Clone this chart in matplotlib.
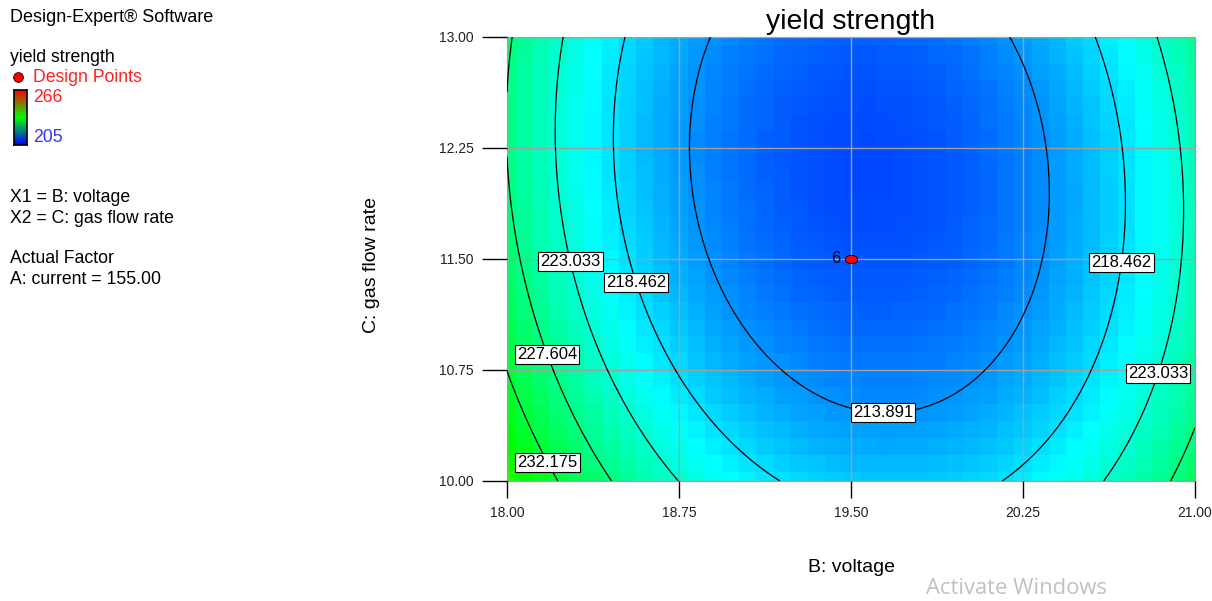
import numpy as np
import matplotlib
matplotlib.use('Agg')
import matplotlib.pyplot as plt
from matplotlib.colors import LinearSegmentedColormap
from matplotlib.path import Path

plt.rcParams['font.family'] = ['Liberation Sans', 'DejaVu Sans']

#######################
# data
#######################
voltage_range = [18.0, 21.0]          # B: voltage
gas_range = [10.0, 13.0]              # C: gas flow rate
x_ticks = [18.00, 18.75, 19.50, 20.25, 21.00]
y_ticks = [10.00, 10.75, 11.50, 12.25, 13.00]

# coded quadratic model: const, X1, X2, X1*X2, X1^2, X2^2
model_coef = [210.11, -2.35, -3.09, 1.48, 16.45, 3.77]
contour_levels = [213.891, 218.462, 223.033, 227.604, 232.175]
color_range = [205, 266]

design_x = [19.5]
design_y = [11.5]
design_count = ['6']

legend_lines = ['X1 = B: voltage', 'X2 = C: gas flow rate', '',
                'Actual Factor', 'A: current = 155.00']

W, H = 1212, 601


def yield_strength(b, c):
    x1 = (b - 19.5) / 1.5
    x2 = (c - 11.5) / 1.5
    k = model_coef
    return k[0] + k[1]*x1 + k[2]*x2 + k[3]*x1*x2 + k[4]*x1**2 + k[5]*x2**2


de_cmap = LinearSegmentedColormap.from_list(
    'de', ['#0000ff', '#00ffff', '#00ff00', '#ffff00', '#ff0000'])

fig = plt.figure(figsize=(W/100, H/100), dpi=100)
ax = fig.add_axes([507/W, 1-481/H, 688/W, 444/H])

# blocky colour fill
bx = np.linspace(voltage_range[0], voltage_range[1], 41)
cy = np.linspace(gas_range[0], gas_range[1], 27)
BB, CC = np.meshgrid(bx, cy)
ax.pcolormesh(BB, CC, yield_strength(BB, CC), cmap=de_cmap, shading='nearest',
              vmin=color_range[0], vmax=color_range[1], zorder=0)

# smooth contour lines
fx = np.linspace(voltage_range[0], voltage_range[1], 300)
fy = np.linspace(gas_range[0], gas_range[1], 300)
FX, FY = np.meshgrid(fx, fy)
cs = ax.contour(FX, FY, yield_strength(FX, FY), levels=contour_levels,
                colors='black', linewidths=0.9, zorder=3)
label_spots = [(18.25, 11.47), (18.545, 11.33), (20.70, 11.47), (18.2, 10.87),
               (18.18, 10.13), (20.83, 10.73), (19.64, 10.47)]
labels = ax.clabel(cs, manual=label_spots, inline=False, fmt='%.3f', fontsize=12)
for t in labels:
    t.set_rotation(0)
    t.set_zorder(5)
    t.set_bbox(dict(boxstyle='square,pad=0.12', fc='white', ec='black', lw=0.8))

# design point
ell = Path(Path.unit_circle().vertices * [1.5, 1.0], Path.unit_circle().codes)
ax.plot(design_x, design_y, linestyle='none', marker=ell, markersize=9,
        mfc='red', mec='black', mew=0.6, zorder=6)
for x, y, n in zip(design_x, design_y, design_count):
    ax.text(x - 0.045, y, n, ha='right', va='center', fontsize=12, zorder=6)

ax.set_xlim(voltage_range)
ax.set_ylim(gas_range)
ax.set_xticks(x_ticks)
ax.set_yticks(y_ticks)
ax.set_xticklabels(['%.2f' % v for v in x_ticks])
ax.set_yticklabels(['%.2f' % v for v in y_ticks])
ax.grid(True, color='#a0a0a0', linewidth=1)
ax.set_axisbelow(False)
for s in ax.spines.values():
    s.set_color('#a0a0a0')
ax.tick_params(axis='x', length=12, width=1, pad=6, labelsize=10, labelcolor='#222222')
ax.tick_params(axis='y', length=18, width=1, pad=6, labelsize=10, labelcolor='#222222')

ax.set_title('yield strength', fontsize=20.5, pad=6)
ax.set_xlabel('B: voltage', fontsize=14)
ax.set_ylabel('C: gas flow rate', fontsize=14)
ax.xaxis.set_label_coords(0.5, -(567-481)/444)
ax.xaxis.label.set_va('center')
ax.yaxis.set_label_coords(-(507-372)/688, (481-265)/444)
ax.yaxis.label.set_va('center')

# left side legend block, in pixel coordinates
def fpos(px, py):
    return px / W, 1 - py / H

fig.text(*fpos(10, 17), 'Design-Expert\u00ae Software', fontsize=13, va='center')
fig.text(*fpos(10, 57), 'yield strength', fontsize=12.7, va='center')
fig.text(*fpos(33, 77), 'Design Points', fontsize=12.7, va='center', color='#ff2020')
fig.text(*fpos(33, 98), str(color_range[1]), fontsize=12.7, va='center', color='#ff2020')
fig.text(*fpos(33, 137), str(color_range[0]), fontsize=12.7, va='center', color='#3333ff')
for i, line in enumerate(legend_lines):
    fig.text(*fpos(10, 198 + i*20.3), line, fontsize=12.7, va='center')

dot = fig.add_axes([0, 0, 1, 1])
dot.set_xlim(0, W)
dot.set_ylim(H, 0)
dot.axis('off')
dot.plot([18], [77], marker='o', markersize=7, mfc='red', mec='black', mew=0.6)

cbar = fig.add_axes([14/W, 1-145/H, 13/W, 55/H])
grad = LinearSegmentedColormap.from_list('leg', ['#0000ff', '#00ff00', '#ff0000'])
cbar.imshow(np.linspace(1, 0, 100).reshape(-1, 1), cmap=grad, aspect='auto',
            extent=[0, 1, 0, 1])
cbar.set_xticks([])
cbar.set_yticks([])
for s in cbar.spines.values():
    s.set_color('black')
    s.set_linewidth(1.2)

fig.text(*fpos(1016, 589), 'Activate Windows', fontsize=15.8, ha='center', va='center',
         color='#c0c0c0', family=['Open Sans', 'DejaVu Sans'])

fig.savefig('out.png', dpi=100)
